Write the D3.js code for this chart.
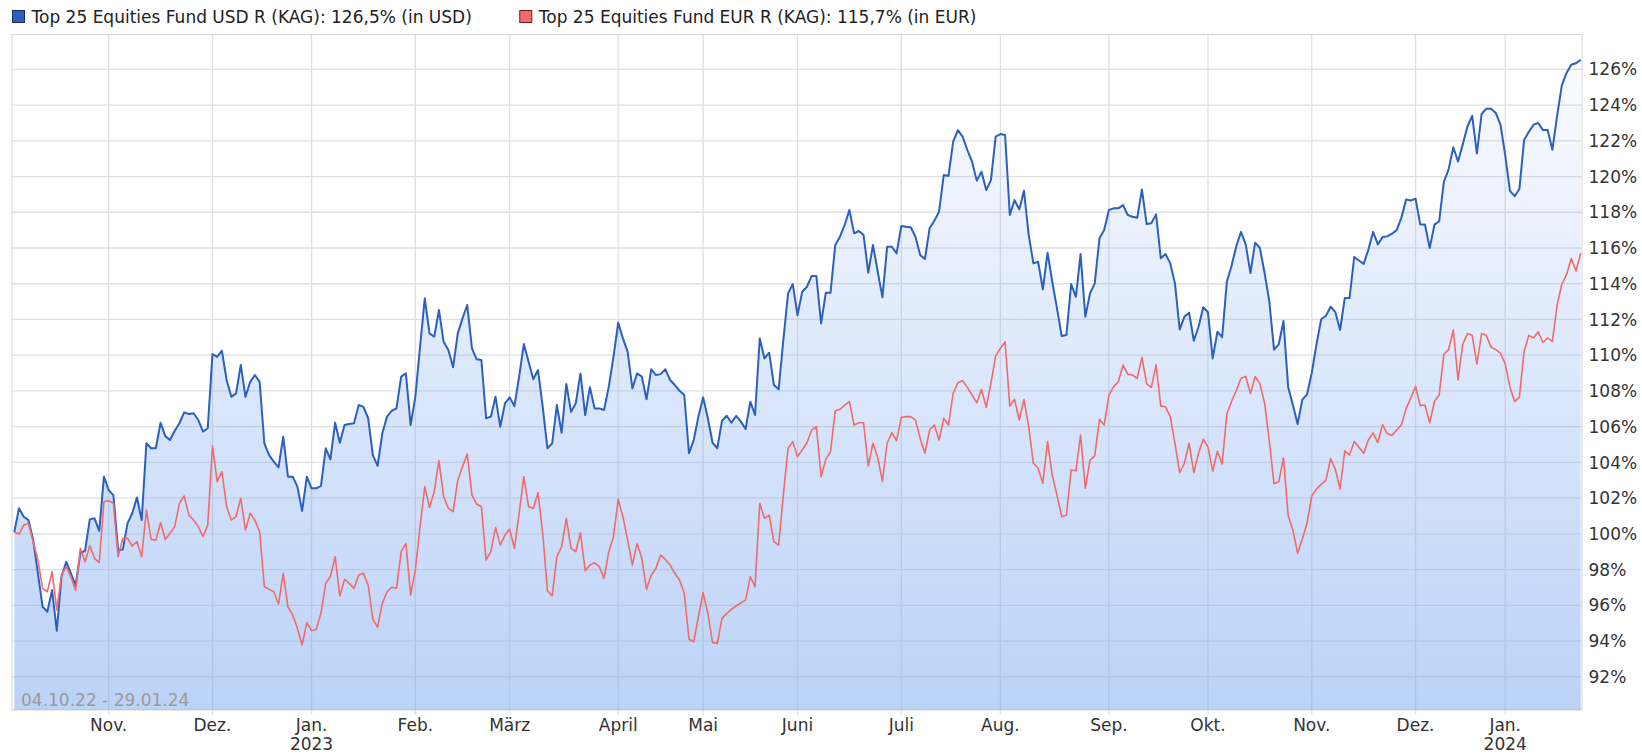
<!DOCTYPE html>
<html>
<head>
<meta charset="utf-8">
<script src="https://cdn.jsdelivr.net/npm/d3@7"></script>
<style>
  body { margin: 0; background: #fff; }
  svg { display: block; font-family: "DejaVu Sans", Verdana, sans-serif; }
</style>
</head>
<body>
<svg id="chart" width="1642" height="755"></svg>
<script>
// trading calendar of the fund (first price 04.10.22)
const startDate = '2022-10-04';
const holidays = ['2022-12-26', '2023-04-07', '2023-04-10', '2023-05-01', '2023-05-18',
  '2023-05-29', '2023-12-25', '2023-12-26', '2024-01-01'];
const monthNames = ['Jan.', 'Feb.', 'März', 'April', 'Mai', 'Juni', 'Juli', 'Aug.', 'Sep.', 'Okt.', 'Nov.', 'Dez.'];
const yTicks = d3.range(92, 127, 2);
const rangeLabel = '04.10.22 - 29.01.24';
const seriesNames = ['Top 25 Equities Fund USD R (KAG)', 'Top 25 Equities Fund EUR R (KAG)'];
const currencies = ['USD', 'EUR'];

// performance in % per trading day
const usd = [
  100.1, 101.43, 100.96, 100.77, 99.65, 97.79, 95.92, 95.64, 96.85, 94.58,
  97.6, 98.44, 97.79, 97.13, 98.91, 99.06, 100.81, 100.87, 100.17, 103.2,
  102.45, 102.17, 99.09, 99.13, 100.59, 101.15, 102.04, 100.77, 105.07, 104.79,
  104.79, 106.22, 105.47, 105.25, 105.77, 106.19, 106.8, 106.71, 106.75, 106.37,
  105.72, 105.91, 110.06, 109.91, 110.25, 108.61, 107.67, 107.86, 109.45, 107.67,
  108.51, 108.89, 108.51, 105.07, 104.41, 104.04, 103.72, 105.44, 103.2, 103.2,
  102.64, 101.28, 103.2, 102.55, 102.55, 102.68, 104.79, 104.17, 106.22, 105.1,
  106.09, 106.15, 106.19, 107.21, 107.11, 106.47, 104.41, 103.8, 105.63, 106.56,
  106.89, 107.02, 108.8, 108.98, 106.09, 107.67, 110.47, 113.18, 111.22, 111.03,
  112.53, 110.75, 110.29, 109.32, 111.22, 112.06, 112.81, 110.38, 109.77, 109.73,
  106.47, 106.56, 107.67, 106.0, 107.3, 107.64, 107.15, 108.8, 110.62, 109.63,
  108.65, 109.17, 107.11, 104.79, 105.07, 107.21, 105.66, 108.39, 106.83, 107.3,
  108.98, 106.65, 108.21, 107.02, 107.02, 106.93, 108.24, 109.91, 111.82, 110.94,
  110.19, 108.14, 108.98, 108.8, 107.53, 109.21, 108.89, 108.94, 109.21, 108.61,
  108.33, 108.01, 107.77, 104.51, 105.25, 106.56, 107.64, 106.47, 105.1, 104.79,
  106.33, 106.61, 106.22, 106.61, 106.28, 105.87, 107.4, 106.65, 110.94, 109.82,
  110.14, 108.33, 108.09, 110.85, 113.46, 113.98, 112.25, 113.55, 113.83, 114.43,
  114.43, 111.78, 113.5, 113.5, 116.17, 116.63, 117.29, 118.13, 116.82, 116.95,
  116.73, 114.62, 116.17, 114.67, 113.24, 116.07, 116.07, 115.7, 117.23, 117.19,
  117.16, 116.63, 115.61, 115.38, 117.1, 117.53, 118.03, 120.08, 120.03, 121.95,
  122.6, 122.23, 121.48, 120.83, 119.77, 120.27, 119.24, 119.8, 122.23, 122.38,
  122.32, 117.85, 118.68, 118.16, 119.2, 116.73, 115.14, 115.23, 113.69, 115.74,
  114.11, 112.62, 111.07, 111.13, 113.98, 113.27, 115.66, 112.15, 113.46, 114.02,
  116.54, 117.01, 118.13, 118.22, 118.22, 118.4, 117.85, 117.75, 117.69, 119.28,
  117.34, 117.38, 117.88, 115.42, 115.66, 115.14, 114.02, 111.45, 112.15, 112.38,
  110.81, 111.59, 112.68, 112.4, 109.82, 111.31, 111.01, 114.11, 115.01, 116.1,
  116.9, 116.2, 114.6, 116.3, 116.0, 114.6, 113.01, 110.31, 110.61, 111.91,
  108.21, 107.21, 106.15, 107.51, 107.81, 109.01, 110.61, 112.01, 112.21, 112.71,
  112.41, 111.41, 113.2, 113.2, 115.5, 115.3, 115.11, 115.91, 116.9, 116.2,
  116.61, 116.65, 116.8, 117.0, 117.7, 118.71, 118.66, 118.76, 117.31, 117.31,
  116.0, 117.31, 117.5, 119.7, 120.4, 121.64, 120.84, 121.8, 122.8, 123.4,
  121.3, 123.5, 123.8, 123.8, 123.56, 122.9, 121.2, 119.2, 118.9, 119.3,
  122.04, 122.5, 122.9, 123.0, 122.6, 122.6, 121.5, 123.4, 125.1, 125.8,
  126.26, 126.34, 126.54
];
const eur = [
  100.1, 99.99, 100.49, 100.59, 99.56, 98.53, 96.95, 96.76, 97.88, 95.74,
  97.69, 98.16, 97.6, 96.85, 99.19, 98.44, 99.34, 98.63, 98.38, 101.8,
  101.85, 101.71, 98.72, 99.75, 99.75, 99.32, 99.56, 98.72, 101.33, 99.69,
  99.65, 100.62, 99.69, 100.03, 100.4, 101.71, 102.12, 101.05, 100.77, 100.4,
  99.84, 100.49, 104.93, 102.92, 103.48, 101.52, 100.77, 100.96, 101.99, 100.21,
  101.15, 100.77, 100.12, 97.04, 96.89, 96.76, 96.07, 97.79, 95.92, 95.46,
  94.71, 93.78, 95.03, 94.58, 94.66, 95.55, 97.23, 97.6, 98.72, 96.52,
  97.45, 97.23, 96.95, 97.69, 97.79, 97.13, 95.21, 94.77, 96.11, 96.76,
  97.01, 96.95, 99.0, 99.47, 96.57, 97.97, 100.4, 102.64, 101.48, 102.36,
  104.1, 102.08, 101.43, 101.24, 103.01, 103.76, 104.47, 102.17, 101.67, 101.52,
  98.53, 99.0, 100.36, 99.37, 99.93, 100.25, 99.19, 101.15, 103.2, 101.52,
  101.43, 102.3, 100.03, 96.82, 96.52, 98.72, 99.28, 100.87, 99.19, 99.0,
  100.06, 97.94, 98.25, 98.38, 98.16, 97.51, 99.0, 99.84, 101.93, 100.96,
  99.65, 98.25, 99.47, 98.63, 96.89, 97.69, 98.07, 98.81, 98.57, 98.25,
  97.79, 97.41, 96.67, 94.1, 93.96, 95.36, 96.7, 95.55, 93.91, 93.87,
  95.27, 95.55, 95.77, 95.96, 96.14, 96.29, 97.6, 97.04, 101.71, 100.87,
  101.05, 99.56, 99.37, 102.17, 104.79, 105.16, 104.32, 104.69, 105.1, 105.81,
  106.0, 103.2, 104.17, 104.6, 106.89, 106.97, 107.21, 107.4, 106.09, 106.22,
  106.22, 103.8, 105.07, 104.28, 102.92, 105.07, 105.66, 105.21, 106.52, 106.56,
  106.56, 106.37, 105.35, 104.51, 105.81, 106.09, 105.25, 106.47, 106.09, 107.87,
  108.46, 108.57, 108.2, 107.77, 107.34, 108.09, 107.08, 108.43, 109.95, 110.38,
  110.75, 107.15, 107.53, 106.37, 107.53, 106.0, 103.95, 103.67, 102.83, 105.16,
  103.29, 102.17, 100.96, 101.05, 103.57, 103.53, 105.53, 102.55, 104.13, 104.36,
  106.41, 106.09, 107.77, 108.24, 108.51, 109.45, 108.94, 108.89, 108.7, 109.88,
  108.39, 108.2, 109.45, 107.15, 107.11, 106.56, 105.07, 103.42, 103.95, 105.07,
  103.42, 104.51, 105.3, 104.85, 103.52, 104.62, 103.91, 106.71, 107.41, 108.01,
  108.71, 108.81, 107.85, 108.81, 108.41, 107.31, 105.21, 102.81, 102.91, 104.25,
  101.01, 100.21, 98.92, 99.71, 100.61, 102.11, 102.51, 102.77, 103.01, 104.21,
  103.61, 102.51, 104.65, 104.41, 105.17, 104.85, 104.51, 105.25, 105.65, 105.11,
  106.11, 105.61, 105.51, 105.81, 106.11, 107.01, 107.61, 108.25, 107.17, 107.21,
  106.21, 107.41, 107.77, 110.05, 110.31, 111.41, 108.61, 110.61, 111.21, 111.11,
  109.51, 111.21, 111.11, 110.45, 110.31, 110.11, 109.51, 108.21, 107.41, 107.65,
  110.21, 111.11, 110.97, 111.31, 110.71, 110.97, 110.77, 112.81, 113.97, 114.51,
  115.41, 114.71, 115.71
];

const colors = ['#2c60bf', '#f26a6a'];

// build trading days: weekdays without holidays
const parseDay = d3.timeParse('%Y-%m-%d');
const fmtDay = d3.timeFormat('%Y-%m-%d');
const holidaySet = new Set(holidays);
const days = [];
for (let d = parseDay(startDate); days.length < usd.length; d = d3.timeDay.offset(d, 1)) {
  const wd = d.getDay();
  if (wd !== 0 && wd !== 6 && !holidaySet.has(fmtDay(d))) days.push(d);
}
// a tick on the first trading day of every month
const monthTicks = [];
days.forEach((d, i) => {
  if (i > 0 && d.getMonth() !== days[i - 1].getMonth()) monthTicks.push(i);
});

const svg = d3.select('#chart');
const plot = { left: 12, right: 1582, top: 34.5, bottom: 710 };

const x = d3.scaleLinear().domain([0, usd.length - 1]).range([14.3, 1580.7]);
const y = d3.scaleLinear().domain([90.14, 127.95]).range([plot.bottom, plot.top]);

// gradient under the USD line
const grad = svg.append('defs').append('linearGradient')
  .attr('id', 'usdFill')
  .attr('gradientUnits', 'userSpaceOnUse')
  .attr('x1', 0).attr('x2', 0)
  .attr('y1', plot.top).attr('y2', plot.bottom);
grad.append('stop').attr('offset', 0).attr('stop-color', 'rgb(120,165,240)').attr('stop-opacity', 0.02);
grad.append('stop').attr('offset', 1).attr('stop-color', 'rgb(120,165,240)').attr('stop-opacity', 0.5);

// grid
const grid = svg.append('g').attr('stroke', '#e0e0e0').attr('stroke-width', 1.3);
grid.selectAll('line.h').data(yTicks).join('line')
  .attr('class', 'h')
  .attr('x1', plot.left).attr('x2', plot.right)
  .attr('y1', (d) => y(d)).attr('y2', (d) => y(d));
grid.selectAll('line.v').data(monthTicks).join('line')
  .attr('class', 'v')
  .attr('x1', (d) => x(d)).attr('x2', (d) => x(d))
  .attr('y1', plot.top).attr('y2', plot.bottom + 5);

svg.append('rect')
  .attr('x', plot.left).attr('y', plot.top)
  .attr('width', plot.right - plot.left).attr('height', plot.bottom - plot.top)
  .attr('fill', 'none').attr('stroke', '#d6d6d6').attr('stroke-width', 1);

// area + lines
svg.append('path')
  .datum(usd)
  .attr('fill', 'url(#usdFill)')
  .attr('d', d3.area().x((d, i) => x(i)).y0(plot.bottom).y1((d) => y(d)));

const line = d3.line().x((d, i) => x(i)).y((d) => y(d));
[usd, eur].forEach((s, k) => {
  svg.append('path')
    .datum(s)
    .attr('fill', 'none')
    .attr('stroke', colors[k])
    .attr('stroke-width', k === 0 ? 2 : 1.6)
    .attr('stroke-linejoin', 'round')
    .attr('d', line);
});

// range label
svg.append('text')
  .attr('x', 21).attr('y', 706)
  .attr('font-size', 17).attr('fill', '#9a9a9a')
  .text(rangeLabel);

// y axis labels (right)
svg.append('g').selectAll('text').data(yTicks).join('text')
  .attr('x', plot.right + 6.5)
  .attr('y', (d) => y(d))
  .attr('dy', '0.36em')
  .attr('font-size', 17).attr('fill', '#333')
  .text((d) => d + '%');

// x axis labels
const xl = svg.append('g').attr('font-size', 17).attr('fill', '#333').attr('text-anchor', 'middle');
xl.selectAll('text.m').data(monthTicks).join('text')
  .attr('class', 'm')
  .attr('x', (d) => x(d)).attr('y', 731)
  .text((d) => monthNames[days[d].getMonth()]);
xl.selectAll('text.y').data(monthTicks.filter((d) => days[d].getMonth() === 0)).join('text')
  .attr('class', 'y')
  .attr('x', (d) => x(d)).attr('y', 750)
  .text((d) => days[d].getFullYear());

// legend
const pct = (v) => d3.format('.1f')(v).replace('.', ',') + '%';
let lx = 12.5;
[usd, eur].forEach((s, k) => {
  const g = svg.append('g');
  g.append('rect')
    .attr('x', lx).attr('y', 10.5).attr('width', 12).attr('height', 12)
    .attr('fill', colors[k]).attr('stroke', k === 0 ? '#16305f' : '#6a1f1f').attr('stroke-width', 1);
  const t = g.append('text')
    .attr('x', lx + 19).attr('y', 22.5)
    .attr('font-size', 17).attr('fill', '#222')
    .text(`${seriesNames[k]}: ${pct(s[s.length - 1])} (in ${currencies[k]})`);
  lx += 19 + t.node().getComputedTextLength() + 48;
});
</script>
</body>
</html>
